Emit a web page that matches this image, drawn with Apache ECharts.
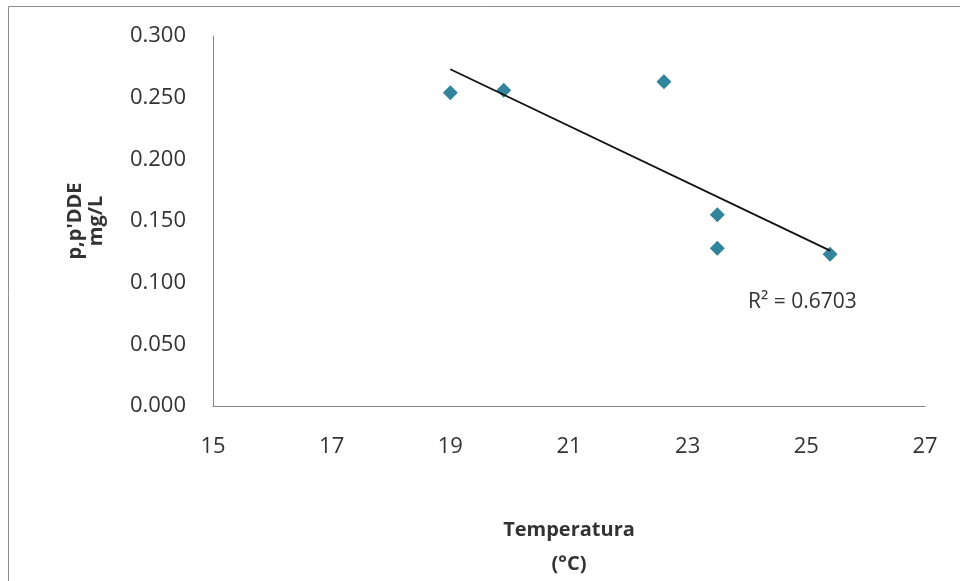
<!DOCTYPE html>
<html>
<head>
<meta charset="utf-8">
<script src="https://cdn.jsdelivr.net/npm/echarts@6/dist/echarts.min.js"></script>
<style>
  html, body { margin: 0; padding: 0; background: #fff; }
  #chart { width: 960px; height: 581px; }
</style>
</head>
<body>
<div id="chart"></div>
<script>
// temperatura (°C) vs p,p'DDE (mg/L)
const temperatures = [19.0, 19.9, 22.6, 23.5, 23.5, 25.4]
const ddeValues = [0.254, 0.256, 0.263, 0.155, 0.128, 0.123]
// linear trend line, ends
const trendX = [19.0, 25.4]
const trendY = [0.273, 0.126]
const rSquared = '0.6703'

const font = '"Open Sans", "DejaVu Sans", sans-serif'

const chart = echarts.init(document.getElementById('chart'), null, { renderer: 'canvas' })

chart.setOption({
  backgroundColor: '#fff',
  animation: false,
  textStyle: { fontFamily: font },
  grid: { left: 213, right: 35, top: 36, bottom: 175, outerBoundsMode: 'none', containLabel: false },
  xAxis: {
    type: 'value',
    min: 15,
    max: 27,
    interval: 2,
    name: 'Temperatura\n(°C)',
    nameLocation: 'middle',
    nameGap: 107,
    nameTextStyle: { fontFamily: font, fontWeight: 'bold', fontSize: 20, color: '#333', lineHeight: 34 },
    axisLine: { lineStyle: { color: '#868686', width: 1 } },
    axisTick: { show: false },
    splitLine: { show: false },
    axisLabel: { fontFamily: font, fontSize: 22, color: '#333', margin: 30 }
  },
  yAxis: {
    type: 'value',
    min: 0,
    max: 0.3,
    interval: 0.05,
    name: "p,p'DDE\nmg/L",
    nameLocation: 'middle',
    nameGap: 106,
    nameRotate: 90,
    nameTextStyle: { fontFamily: font, fontWeight: 'bold', fontSize: 20, color: '#333', lineHeight: 21 },
    axisLine: { show: true, lineStyle: { color: '#868686', width: 1 } },
    axisTick: { show: false },
    splitLine: { show: false },
    axisLabel: {
      fontFamily: font,
      fontSize: 22,
      color: '#333',
      margin: 27,
      formatter: v => v.toFixed(3)
    }
  },
  graphic: [
    {
      type: 'rect',
      silent: true,
      shape: { x: 8.5, y: 6.5, width: 1000, height: 1000 },
      style: { fill: 'none', stroke: '#8c8c8c', lineWidth: 1 }
    },
    {
      type: 'text',
      left: 748,
      top: 292,
      style: { text: 'R² = ' + rSquared, font: '21px ' + font, fill: '#333' }
    }
  ],
  series: [
    {
      type: 'line',
      data: trendX.map((x, i) => [x, trendY[i]]),
      symbol: 'none',
      lineStyle: { color: '#111', width: 1.8 },
      z: 3
    },
    {
      type: 'scatter',
      data: temperatures.map((t, i) => [t, ddeValues[i]]),
      symbol: 'diamond',
      symbolSize: 15,
      itemStyle: { color: '#31849B', opacity: 1 },
      z: 2
    }
  ]
})
</script>
</body>
</html>
